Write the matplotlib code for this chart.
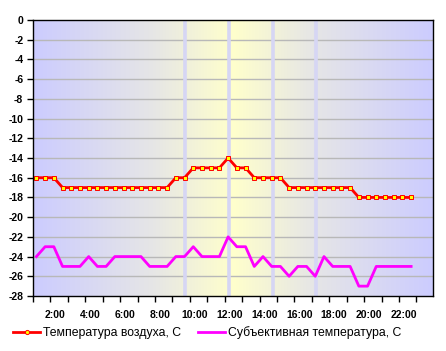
# -------------------------------
# IMPORT LIBRARIES
# -------------------------------
import numpy as np
import matplotlib
matplotlib.use("Agg")
import matplotlib.pyplot as plt
from matplotlib.lines import Line2D

# -------------------------------
# DATA (half-hour readings)
# -------------------------------
air_temp = [-16, -16, -16, -17, -17, -17, -17, -17, -17, -17, -17,
            -17, -17, -17, -17, -17, -16, -16, -15, -15, -15, -15,
            -14, -15, -15, -16, -16, -16, -16, -17, -17, -17, -17,
            -17, -17, -17, -17, -18, -18, -18, -18, -18, -18, -18]
feels_temp = [-24, -23, -23, -25, -25, -25, -24, -25, -25, -24, -24,
              -24, -24, -25, -25, -25, -24, -24, -23, -24, -24, -24,
              -22, -23, -23, -25, -24, -25, -25, -26, -25, -25, -26,
              -24, -25, -25, -25, -27, -27, -25, -25, -25, -25, -25]
hour_labels = ["2:00", "4:00", "6:00", "8:00", "10:00", "12:00",
               "14:00", "16:00", "18:00", "20:00", "22:00"]
hour_values = [2, 4, 6, 8, 10, 12, 14, 16, 18, 20, 22]
marker_hours = [9.47, 11.96, 14.49, 16.98]

times = 0.925 + 0.5 * np.arange(len(air_temp))

# -------------------------------
# FIGURE SETUP
# -------------------------------
plt.rcParams['font.family'] = ['Liberation Sans', 'DejaVu Sans']

fig = plt.figure(figsize=(4.46, 3.51), dpi=100)
ax = fig.add_axes([33 / 446, 1 - 296 / 351, 400 / 446, 276 / 351])

x0, x1 = 0.73, 23.68
y0, y1 = -28, 0

# background gradient blue - gray - yellow - gray - blue
stops = [0.0, 0.3, 0.5, 0.7, 1.0]
cols = np.array([[204, 204, 255], [230, 230, 230], [255, 255, 204],
                 [230, 230, 230], [204, 204, 255]]) / 255.0
xs = np.linspace(0, 1, 400)
grad = np.stack([np.interp(xs, stops, cols[:, c]) for c in range(3)], axis=-1)
ax.imshow(grad[np.newaxis, :, :], extent=[x0, x1, y0, y1], aspect='auto',
          zorder=0, interpolation='bilinear')

# grid and vertical marker lines
for y in range(-26, 0, 2):
    ax.axhline(y, color='#b8b8b8', lw=1.0, zorder=1)
for h in marker_hours:
    ax.axvline(h, color='#d6d6f4', lw=2.6, zorder=1)

# -------------------------------
# PLOT SERIES
# -------------------------------
ax.plot(times, air_temp, color='#ff0000', lw=2.0, marker='s', markersize=2.8,
        markerfacecolor='#ffff00', markeredgecolor='#ff0000',
        markeredgewidth=0.7, zorder=3)
ax.plot(times, feels_temp, color='#ff00ff', lw=2.0, zorder=3)

ax.set_xlim(x0, x1)
ax.set_ylim(y0, y1)

# -------------------------------
# AXES / TICKS
# -------------------------------
ax.set_yticks(range(-28, 1, 2))
ax.set_yticklabels([str(v) for v in range(-28, 1, 2)], fontsize=7.5,
                   fontweight='bold')
ax.tick_params(axis='y', direction='out', length=4, width=1, pad=3)

ax.set_xticks(hour_values)
ax.set_xticklabels(hour_labels, fontsize=7.5, fontweight='bold')
ax.tick_params(axis='x', which='major', length=0, pad=10)
ax.set_xticks(np.arange(x0, x1 + 0.01, 1.0), minor=True)
ax.tick_params(axis='x', which='minor', direction='out', length=4, width=1)

for s in ax.spines.values():
    s.set_color('black')
    s.set_linewidth(1.0)
    s.set_zorder(4)

# -------------------------------
# LEGEND
# -------------------------------
handles = [
    Line2D([], [], color='#ff0000', lw=2.0, marker='o', markersize=3,
           markerfacecolor='#ffff00', markeredgecolor='#ff0000',
           markeredgewidth=0.7),
    Line2D([], [], color='#ff00ff', lw=2.0),
]
fig.legend(handles, ["Температура воздуха, С", "Субъективная температура, С"],
           loc='center', bbox_to_anchor=(0.465, 1 - 333 / 351), ncol=2,
           frameon=False, fontsize=8.8, handlelength=2.2, handletextpad=0.25,
           columnspacing=1.35, markerscale=1.0)

fig.savefig("out.png", dpi=100, facecolor='white')
